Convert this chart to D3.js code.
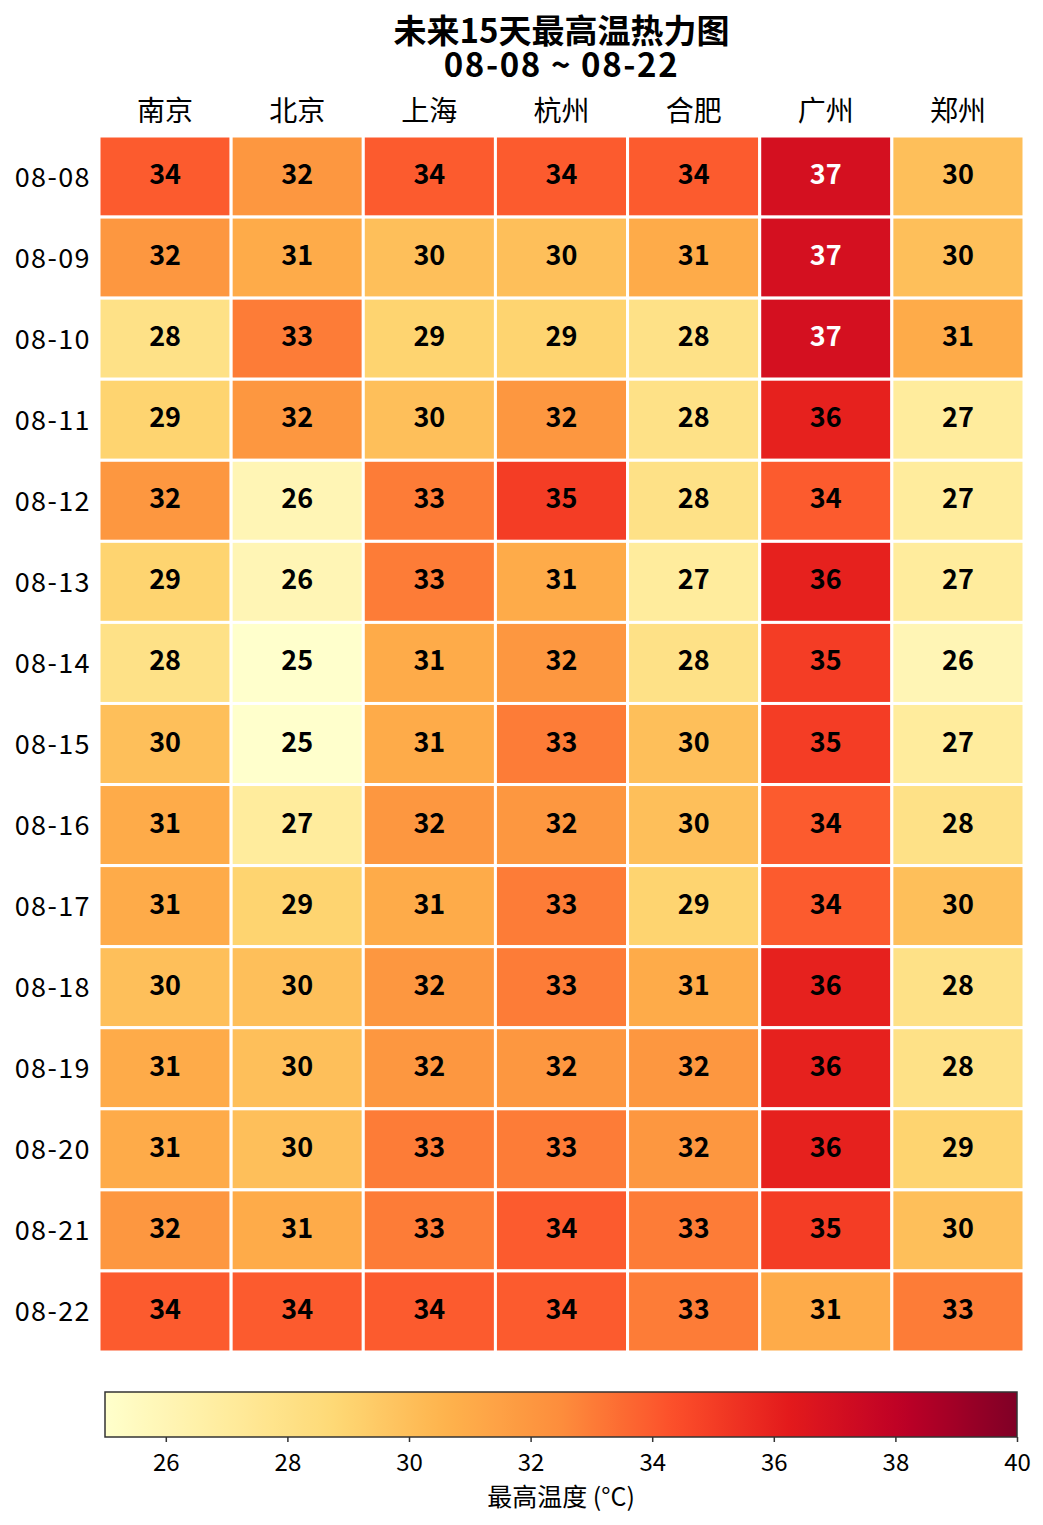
<!DOCTYPE html>
<html><head><meta charset="utf-8">
<script src="https://cdn.jsdelivr.net/npm/d3@7"></script>
<style>
html,body{margin:0;padding:0;background:#fff;}
svg{display:block;font-family:"Noto Sans CJK SC","Noto Sans",sans-serif;}
</style></head>
<body>
<svg id="chart" width="1043" height="1525"></svg>
<script>
const cities = ["南京","北京","上海","杭州","合肥","广州","郑州"];
const dates = ["08-08","08-09","08-10","08-11","08-12","08-13","08-14","08-15","08-16","08-17","08-18","08-19","08-20","08-21","08-22"];
const temps = [
  [34,32,34,34,34,37,30],
  [32,31,30,30,31,37,30],
  [28,33,29,29,28,37,31],
  [29,32,30,32,28,36,27],
  [32,26,33,35,28,34,27],
  [29,26,33,31,27,36,27],
  [28,25,31,32,28,35,26],
  [30,25,31,33,30,35,27],
  [31,27,32,32,30,34,28],
  [31,29,31,33,29,34,30],
  [30,30,32,33,31,36,28],
  [31,30,32,32,32,36,28],
  [31,30,33,33,32,36,29],
  [32,31,33,34,33,35,30],
  [34,34,34,34,33,31,33]
];
const colorTicks = [26,28,30,32,34,36,38,40];
const vMin = 25, vMax = 40;
const titleLines = ["未来15天最高温热力图","08-08 ~ 08-22"];
const cbarLabel = "最高温度 (°C)";

const svg = d3.select("#chart");
const L = 99, R = 1024, T = 136, B = 1352;

const x = d3.scaleBand().domain(cities).range([L, R]);
const y = d3.scaleBand().domain(dates).range([T, B]);

const brewer = d3.schemeYlOrRd[9];
const color = d3.scaleLinear()
  .domain(d3.range(9).map(i => vMin + i * (vMax - vMin) / 8))
  .range(brewer)
  .interpolate(d3.interpolateRgb);

const cells = [];
temps.forEach((row, i) => row.forEach((v, j) => cells.push({date: dates[i], city: cities[j], v})));

svg.append("g").selectAll("rect").data(cells).join("rect")
  .attr("x", d => x(d.city)).attr("y", d => y(d.date))
  .attr("width", x.bandwidth()).attr("height", y.bandwidth())
  .attr("fill", d => color(d.v))
  .attr("stroke", "#fff").attr("stroke-width", 3);

svg.append("g").selectAll("text").data(cells).join("text")
  .attr("x", d => x(d.city) + x.bandwidth() / 2)
  .attr("y", d => y(d.date) + y.bandwidth() / 2 + 7.5)
  .attr("text-anchor", "middle")
  .attr("font-size", 27).attr("font-weight", "bold")
  .attr("fill", d => d.v >= 37 ? "#fff" : "#000")
  .text(d => d3.format(".0f")(d.v));

// column labels (top)
svg.append("g").selectAll("text").data(cities).join("text")
  .attr("x", d => x(d) + x.bandwidth() / 2).attr("y", 121)
  .attr("text-anchor", "middle").attr("font-size", 28).attr("fill", "#000")
  .text(d => d);

// row labels
svg.append("g").selectAll("text").data(dates).join("text")
  .attr("x", 91).attr("y", d => y(d) + y.bandwidth() / 2 + 10)
  .attr("text-anchor", "end").attr("font-size", 27).attr("letter-spacing", 1.4).attr("fill", "#000")
  .text(d => d);

// title (one text element, two lines)
const title = svg.append("text")
  .attr("text-anchor", "middle").attr("font-size", 33).attr("font-weight", "bold");
title.selectAll("tspan").data(titleLines).join("tspan")
  .attr("x", (L + R) / 2).attr("y", (d, i) => 43 + i * 34)
  .attr("letter-spacing", (d, i) => i === 1 ? 1.6 : 0)
  .text(d => d);

// colorbar
const cbL = 105, cbR = 1017, cbT = 1392, cbB = 1437;
const cx = d3.scaleLinear().domain([vMin, vMax]).range([cbL, cbR]);
const defs = svg.append("defs");
const grad = defs.append("linearGradient").attr("id", "cbgrad")
  .attr("x1", "0%").attr("x2", "100%").attr("y1", "0%").attr("y2", "0%");
d3.range(0, 61).forEach(i => {
  const v = vMin + i * (vMax - vMin) / 60;
  grad.append("stop").attr("offset", (i / 60 * 100) + "%").attr("stop-color", color(v));
});
svg.append("rect").attr("x", cbL).attr("y", cbT).attr("width", cbR - cbL).attr("height", cbB - cbT)
  .attr("fill", "url(#cbgrad)").attr("stroke", "#333").attr("stroke-width", 1.5);

const axis = d3.axisBottom(cx).tickValues(colorTicks).tickSize(5).tickPadding(12).tickFormat(d3.format("d"));
const ag = svg.append("g").attr("transform", `translate(0,${cbB})`).call(axis);
ag.select(".domain").remove();
ag.selectAll(".tick line").attr("stroke", "#333").attr("stroke-width", 1.5);
ag.selectAll(".tick text").attr("font-size", 24).attr("fill", "#000")
  .attr("font-family", '"Noto Sans CJK SC","Noto Sans",sans-serif');

svg.append("text").attr("x", (cbL + cbR) / 2).attr("y", 1506)
  .attr("text-anchor", "middle").attr("font-size", 25).attr("fill", "#000")
  .text(cbarLabel);
</script>
</body></html>
